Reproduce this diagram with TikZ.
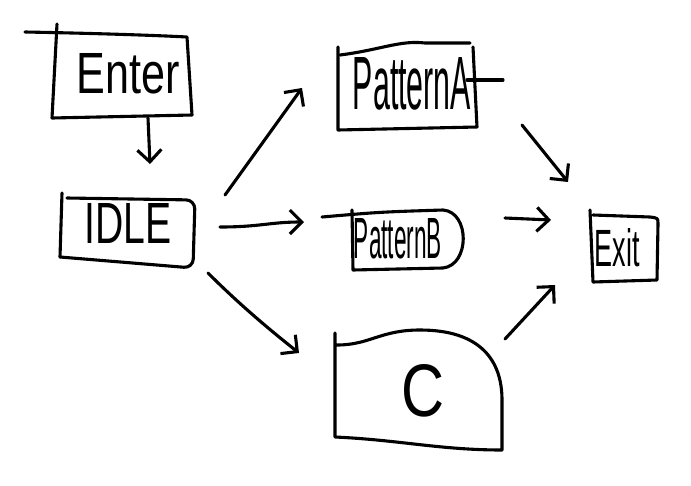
\documentclass[tikz,border=0pt]{standalone}
\usepackage{fontspec}
\usepackage{graphicx}
\setmainfont{Liberation Sans}
\usetikzlibrary{arrows.meta}
\begin{document}
\begin{tikzpicture}[x=1pt,y=-1pt,
  ink/.style={line width=3.1pt, line cap=round, line join=round, black},
  lbl/.style={inner sep=0pt, black},
  flow/.style={ink, -{Straight Barb[length=12pt,width=24pt,line width=3.1pt]}}]
\useasboundingbox[fill=white] (0,0) rectangle (691,485);

% Enter box
\draw[ink] (25,32) .. controls (80,33) and (150,35) .. (187,37) -- (192,115) -- (52,118) -- (57,24);
\node[lbl] (enter) at (128,74) {\resizebox{103pt}{40pt}{Enter}};

% IDLE box
\draw[ink] (62,193) -- (60,257);
\draw[ink, rounded corners=9pt] (67,198) -- (195,200) -- (193,268) -- (60,257);
\node[lbl] (idle) at (128,223) {\resizebox{87pt}{40pt}{IDLE}};

% PatternA box
\draw[ink] (338,47) -- (338,130) -- (477,127) -- (473,47);
\draw[ink] (340,55) .. controls (380,50) and (400,40) .. (425,43) -- (470,43);
\draw[ink] (467,80) -- (503,80);
\node[lbl] (pa) at (412,84) {\resizebox{118pt}{52pt}{PatternA}};

% PatternB box
\draw[ink] (322,217) .. controls (380,212) .. (443,210) .. controls (470,212) and (470,265) .. (443,268) -- (353,270) -- (352,210);
\node[lbl] (pb) at (398,239) {\resizebox{88pt}{40pt}{PatternB}};

% C box
\draw[ink] (335,333) -- (335,437) .. controls (400,440) and (440,450) .. (502,450) -- (502,400) .. controls (502,360) and (480,330) .. (420,330) .. controls (380,330) and (370,345) .. (337,345);
\node[lbl] (c) at (423,391) {\resizebox{43pt}{52pt}{C}};

% Exit box
\draw[ink] (590,210) -- (593,282) -- (657,280) -- (658,224) .. controls (658,218) .. (650,217) -- (593,215);
\node[lbl] (exit) at (617,248) {\resizebox{45pt}{38pt}{Exit}};

% connector end points
\coordinate (enter-s) at (148,118);
\coordinate (idle-n) at (150,164);
\coordinate (idle-ne) at (225,195);
\coordinate (pa-sw) at (302,88);
\coordinate (idle-e) at (220,227);
\coordinate (pb-w) at (304,222);
\coordinate (idle-se) at (208,273);
\coordinate (c-nw) at (299,353);
\coordinate (pa-se) at (522,125);
\coordinate (exit-nw) at (568,182);
\coordinate (pb-e) at (505,218);
\coordinate (exit-w) at (551,220);
\coordinate (c-ne) at (505,339);
\coordinate (exit-sw) at (555,285);

\draw[flow] (enter-s) -- (idle-n);
\draw[flow] (idle-ne) -- (pa-sw);
\draw[flow] (idle-e) .. controls (260,227) and (270,222) .. (pb-w);
\draw[flow] (idle-se) .. controls (240,305) and (270,330) .. (c-nw);
\draw[flow] (pa-se) -- (exit-nw);
\draw[flow] (pb-e) -- (exit-w);
\draw[flow] (c-ne) -- (exit-sw);
\end{tikzpicture}
\end{document}
